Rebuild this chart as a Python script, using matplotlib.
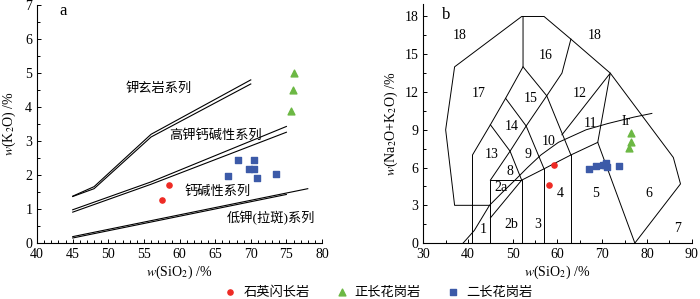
import matplotlib; matplotlib.use("Agg")
import matplotlib.pyplot as plt
from matplotlib.ticker import MultipleLocator

plt.rcParams["font.family"] = ["Liberation Serif", "Noto Sans CJK SC"]
plt.rcParams["mathtext.fontset"] = "stix"
plt.rcParams["axes.unicode_minus"] = False

RED, GREEN, BLUE = "#ee2a24", "#6cb844", "#3c5aa8"
LEG = ["石英闪长岩", "正长花岗岩", "二长花岗岩"]

# ---- panel a: K2O vs SiO2 samples
a_qd_x = [57.6, 58.5]
a_qd_y = [1.28, 1.72]
a_kg_x = [75.6, 75.9, 76.0]
a_kg_y = [3.89, 4.49, 4.99]
a_mg_x = [66.8, 68.2, 69.8, 70.4, 70.5, 70.9, 73.5]
a_mg_y = [1.96, 2.43, 2.17, 2.19, 2.43, 1.91, 2.02]

# series boundaries (double lines)
sho_x = [45, 48, 56, 70]
sho_y1 = [1.38, 1.66, 3.20, 4.80]
sho_y2 = [1.37, 1.60, 3.12, 4.68]
hk_x = [45, 56, 75]
hk_y1 = [0.98, 1.80, 3.43]
hk_y2 = [0.91, 1.73, 3.26]
lk_x1, lk_y1 = [45, 78], [0.19, 1.60]
lk_x2, lk_y2 = [45, 75], [0.15, 1.43]

a_labels = ["钾玄岩系列", "高钾钙碱性系列", "钙碱性系列", "低钾(拉斑)系列"]
a_lab_x = [57.1, 65.0, 65.4, 72.8]
a_lab_y = [4.54, 3.17, 1.53, 0.72]

# ---- panel b: TAS (Middlemost 1994) samples
b_qd_x = [59.3, 58.2]
b_qd_y = [6.17, 4.63]
b_kg_x = [76.4, 76.4, 75.9]
b_kg_y = [8.74, 7.99, 7.58]
b_mg_x = [67.1, 68.6, 70.1, 70.6, 70.9, 71.0, 73.8]
b_mg_y = [5.85, 6.15, 6.22, 6.20, 6.35, 6.05, 6.10]

# field boundaries
outer_x = [77.3, 87.5, 85.9, 71.8, 63, 57, 52, 37, 35, 37, 45]
outer_y = [0, 4.7, 6.8, 13.5, 16.2, 18, 18, 14, 9, 3, 3]
d1_x = [41, 41, 45, 48.4, 52.3, 52.3]
d1_y = [0, 7, 9.4, 11.5, 14, 18]
d2_x = [45, 49.4, 53, 57.6, 61, 63]
d2_y = [5, 7.3, 9.3, 11.7, 13.5, 16.2]
c1_x, c1_y = [45, 49.4, 52], [9.4, 7.3, 5]
c2_x, c2_y = [48.4, 53, 57], [11.5, 9.3, 5.9]
c3_x, c3_y = [52.3, 57.6, 63], [14, 11.7, 7]
r_x = [61, 71.8, 69, 77.3]
r_y = [8.6, 13.5, 8, 0]
low_x = [45, 52, 57, 63, 69]
low_y = [2, 5, 5.9, 7, 8]
box_x = [45, 45, 52, 52]
box_y = [0, 5, 5, 0]
v57_x, v57_y = [57, 57], [0, 5.9]
v63_x, v63_y = [63, 63], [0, 7]
ir_x = [38.9, 41.4, 43.1, 44.8, 47.6, 50.5, 53.3, 56.3, 60.2, 66.4, 71.3, 77.0, 81.1]
ir_y = [0, 1, 2, 3, 4, 5, 6, 7, 8, 9, 9.5, 10, 10.3]

b_labels = ["18", "18", "16", "17", "15", "12", "14", "11", "Ir", "10", "13", "9",
            "8", "2a", "4", "5", "6", "2b", "3", "1", "7"]
b_lab_x = [38.2, 68.4, 57.4, 42.3, 53.9, 65.0, 49.8, 67.3, 75.3, 58.1, 45.3, 53.5,
           49.4, 47.3, 60.6, 68.5, 80.5, 49.6, 55.5, 43.4, 86.9]
b_lab_y = [16.5, 16.5, 14.9, 11.9, 11.5, 11.9, 9.3, 9.5, 9.66, 8.07, 7.0, 7.0,
           5.69, 4.45, 3.97, 3.97, 3.97, 1.45, 1.45, 1.06, 1.19]


def _base(ax):
    for s in ("top", "right"):
        ax.spines[s].set_visible(False)
    for s in ("left", "bottom"):
        ax.spines[s].set_linewidth(0.8)
    ax.tick_params(which="both", direction="in", labelsize=10, width=0.7)
    ax.tick_params(which="major", length=3)
    ax.tick_params(which="minor", length=2.5)


def _pts(ax, qd, kg, mg):
    ax.scatter(*qd, s=14, marker="o", color=RED, zorder=4, label=LEG[0])
    ax.scatter(*kg, s=24, marker="^", color=GREEN, zorder=4, label=LEG[1])
    ax.scatter(*mg, s=21, marker="s", color=BLUE, zorder=4, label=LEG[2])


fig = plt.figure(figsize=(7.0, 2.99), dpi=100)
ax1 = fig.add_axes([0.053, 0.187, 0.407, 0.796])
ax2 = fig.add_axes([0.6047, 0.187, 0.3834, 0.80])

# panel a
_base(ax1)
lw = 0.8
for y in (sho_y1, sho_y2):
    ax1.plot(sho_x, y, color="k", lw=lw)
for y in (hk_y1, hk_y2):
    ax1.plot(hk_x, y, color="k", lw=lw)
ax1.plot(lk_x1, lk_y1, color="k", lw=lw)
ax1.plot(lk_x2, lk_y2, color="k", lw=lw)
for t, x, y in zip(a_labels, a_lab_x, a_lab_y):
    ax1.text(x, y, t, fontsize=9.5, ha="center", va="center")
_pts(ax1, (a_qd_x, a_qd_y), (a_kg_x, a_kg_y), (a_mg_x, a_mg_y))
ax1.set_xlim(40, 80); ax1.set_ylim(0, 7)
ax1.xaxis.set_major_locator(MultipleLocator(5)); ax1.xaxis.set_minor_locator(MultipleLocator(1))
ax1.yaxis.set_major_locator(MultipleLocator(1)); ax1.yaxis.set_minor_locator(MultipleLocator(0.5))
ax1.set_xlabel(r"$w$(SiO$_2$) /%", fontsize=10, labelpad=2)
ax1.set_ylabel(r"$w$(K$_2$O) /%", fontsize=10, labelpad=5)
ax1.text(43.6, 6.82, "a", fontsize=12, ha="center", va="center")

# panel b
_base(ax2)
lw = 0.7
for xs, ys in [(outer_x, outer_y), (d1_x, d1_y), (d2_x, d2_y), (c1_x, c1_y),
               (c2_x, c2_y), (c3_x, c3_y), (r_x, r_y), (low_x, low_y),
               (box_x, box_y), (v57_x, v57_y), (v63_x, v63_y), (ir_x, ir_y)]:
    ax2.plot(xs, ys, color="k", lw=lw)
for t, x, y in zip(b_labels, b_lab_x, b_lab_y):
    ax2.text(x, y, t, fontsize=10, ha="center", va="center")
_pts(ax2, (b_qd_x, b_qd_y), (b_kg_x, b_kg_y), (b_mg_x, b_mg_y))
ax2.set_xlim(30, 90); ax2.set_ylim(0, 19)
ax2.xaxis.set_major_locator(MultipleLocator(10)); ax2.xaxis.set_minor_locator(MultipleLocator(5))
ax2.yaxis.set_major_locator(MultipleLocator(3)); ax2.yaxis.set_minor_locator(MultipleLocator(1.5))
ax2.set_xlabel(r"$w$(SiO$_2$) /%", fontsize=10, labelpad=2)
ax2.set_ylabel(r"$w$(Na$_2$O+K$_2$O) /%", fontsize=10, labelpad=3)
ax2.text(35.2, 18.1, "b", fontsize=12, ha="center", va="center")

h, l = ax1.get_legend_handles_labels()
fig.legend(h, l, loc="center", bbox_to_anchor=(0.54, 0.022), ncol=3, frameon=False,
           fontsize=9.5, handlelength=1.0, handletextpad=0.5, columnspacing=1.9,
           borderpad=0.1)

fig.savefig("out.png", dpi=100, facecolor="white")
